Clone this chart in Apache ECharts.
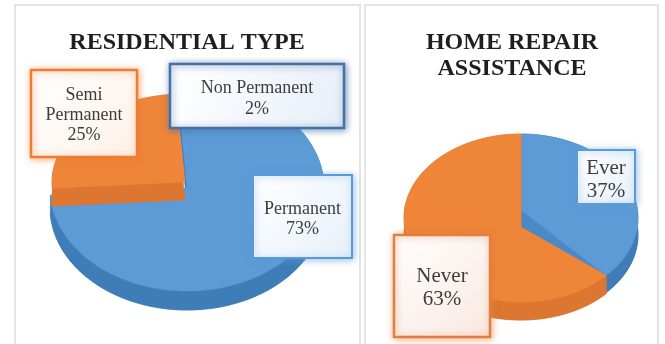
<!DOCTYPE html>
<html>
<head>
<meta charset="utf-8">
<style>html,body{margin:0;padding:0;background:#fff}#c{width:665px;height:344px}</style>
<script src="https://cdn.jsdelivr.net/npm/echarts@6/dist/echarts.min.js"></script>
</head>
<body>
<div id="c"></div>
<script>
// Survey shares, in percent
const residentialTypes = ['Non Permanent', 'Permanent', 'Semi\nPermanent'];
const residentialShares = [2, 73, 25];
const repairAnswers = ['Ever', 'Never'];
const repairShares = [37, 63];

const BLUE = '#5c9bd6', BLUE_SIDE = '#3f7db9', BLUE_CUT = '#4a88c6';
const ORANGE = '#ee8539', ORANGE_SIDE = '#dc7630';
const SERIF = '"Liberation Serif", serif';

const chart = echarts.init(document.getElementById('c'), null, { renderer: 'canvas' });

// Angles run clockwise from twelve o'clock, in degrees.
function arc(el, a0, a1, dy) {
  const pts = [];
  const n = Math.max(2, Math.ceil(Math.abs(a1 - a0) / 2));
  for (let i = 0; i <= n; i++) {
    const a = (a0 + (a1 - a0) * i / n) * Math.PI / 180;
    pts.push([el.cx + el.rx * Math.sin(a), el.cy - el.ry * Math.cos(a) + (dy || 0)]);
  }
  return pts;
}

function poly(points, fill, stroke) {
  return { type: 'polygon', shape: { points }, style: { fill, stroke: stroke || fill, lineWidth: 0.6 } };
}

// Pie slice with a side wall; each slice has its own ellipse and apex.
function sliceParts(el, apex, a0, a1, top, side, depth, cutColor) {
  const rim = arc(el, a0, a1);
  const parts = [];
  parts.push(poly([[apex[0], apex[1] + depth]].concat(arc(el, a0, a1, depth)), side));
  // outer wall joins the top rim to the shifted rim
  parts.push(poly(rim.concat(arc(el, a1, a0, depth)), side));
  if (cutColor) {
    const end = rim[rim.length - 1];
    parts.push(poly([apex, end, [end[0], end[1] + depth], [apex[0], apex[1] + depth]], cutColor));
  }
  parts.push(poly([apex].concat(rim), top));
  return parts;
}

function pieSeries(values, slices, rotation) {
  const total = values.reduce((s, v) => s + v, 0);
  return {
    type: 'custom',
    coordinateSystem: 'none',
    silent: true,
    z: 2,
    data: values.map((v, i) => [v, i]),
    renderItem(params, api) {
      const i = params.dataIndex;
      let start = rotation;
      for (let k = 0; k < i; k++) start += values[k] / total * 360;
      const end = start + api.value(0) / total * 360;
      const s = slices[i];
      return { type: 'group', children: sliceParts(s.ellipse, s.apex, start, end, s.top, s.side, s.depth, s.cut) };
    }
  };
}

function labelSeries(names, values, boxes) {
  return {
    type: 'custom',
    coordinateSystem: 'none',
    silent: true,
    z: 5,
    data: values.map((v, i) => [v, i]),
    renderItem(params, api) {
      const i = params.dataIndex, b = boxes[i];
      if (!b) return null;
      return {
        type: 'group',
        children: [
          {
            type: 'rect',
            shape: { x: b.x, y: b.y, width: b.w, height: b.h },
            style: {
              fill: new echarts.graphic.LinearGradient(0, 0, 1, 1, [
                { offset: 0, color: '#ffffff' }, { offset: 1, color: b.tint }
              ]),
              stroke: b.color, lineWidth: b.line,
              shadowColor: b.glow, shadowBlur: 7, shadowOffsetX: 1, shadowOffsetY: 1
            }
          },
          {
            type: 'text',
            style: {
              x: b.x + b.w / 2, y: b.y + b.h / 2 + (b.dy || 0),
              text: names[i] + '\n' + api.value(0) + '%',
              align: 'center', verticalAlign: 'middle',
              fontFamily: SERIF, fontSize: b.font, lineHeight: b.lh, fill: '#3d3d3d'
            }
          }
        ]
      };
    }
  };
}

const leftFace = { cx: 187, cy: 188, rx: 137, ry: 103 };
const semiFace = { cx: 185, cy: 182, rx: 133, ry: 88 };
const rightFace = { cx: 521, cy: 218, rx: 117, ry: 84 };

chart.setOption({
  animation: false,
  backgroundColor: '#ffffff',
  title: [
    { text: 'RESIDENTIAL TYPE', left: 182, top: 26, textAlign: 'center',
      textStyle: { fontFamily: SERIF, fontWeight: 'bold', fontSize: 24, color: '#1f1f1f' } },
    { text: 'HOME REPAIR\nASSISTANCE', left: 507, top: 25, textAlign: 'center',
      textStyle: { fontFamily: SERIF, fontWeight: 'bold', fontSize: 24, lineHeight: 26, color: '#1f1f1f' } }
  ],
  graphic: [
    { type: 'rect', z: 0, shape: { x: 15, y: 5, width: 345, height: 345 },
      style: { fill: '#fff', stroke: '#e4e4e4', lineWidth: 2 } },
    { type: 'rect', z: 0, shape: { x: 365, y: 5, width: 293, height: 345 },
      style: { fill: '#fff', stroke: '#e4e4e4', lineWidth: 2 } }
  ],
  series: [
    pieSeries(residentialShares, [
      { ellipse: leftFace, apex: [187, 188], top: BLUE, side: BLUE_SIDE, depth: 19 },
      { ellipse: leftFace, apex: [187, 188], top: BLUE, side: BLUE_SIDE, depth: 19 },
      { ellipse: semiFace, apex: [185, 182], top: ORANGE, side: ORANGE_SIDE, depth: 18 }
    ], -4),
    pieSeries(repairShares, [
      { ellipse: rightFace, apex: [521, 210], top: BLUE, side: BLUE_SIDE, depth: 17, cut: BLUE_CUT },
      { ellipse: rightFace, apex: [521, 227], top: ORANGE, side: ORANGE_SIDE, depth: 18 }
    ], 0),
    labelSeries(residentialTypes, residentialShares, [
      { x: 170, y: 64, w: 174, h: 64, color: '#4472a8', glow: 'rgba(68,114,168,0.7)', tint: '#e6eef8', line: 2.5, font: 18, lh: 21, dy: 3 },
      { x: 253, y: 175, w: 99, h: 83, color: '#5b9bd5', glow: 'rgba(91,155,213,0.6)', tint: '#e6f0fa', line: 2, font: 18, lh: 20, dy: 3 },
      { x: 31, y: 70, w: 106, h: 87, color: '#ed7d31', glow: 'rgba(237,125,49,0.6)', tint: '#fdf1e8', line: 2.5, font: 18, lh: 20, dy: 2 }
    ]),
    labelSeries(repairAnswers, repairShares, [
      { x: 577, y: 150, w: 58, h: 54, color: '#5b9bd5', glow: 'rgba(91,155,213,0.6)', tint: '#e6f0fa', line: 2, font: 21, lh: 23, dy: 3 },
      { x: 394, y: 235, w: 96, h: 102, color: '#e07f45', glow: 'rgba(237,125,49,0.6)', tint: '#f8e8e0', line: 2.5, font: 21, lh: 23, dy: 2 }
    ])
  ]
});
</script>
</body>
</html>
